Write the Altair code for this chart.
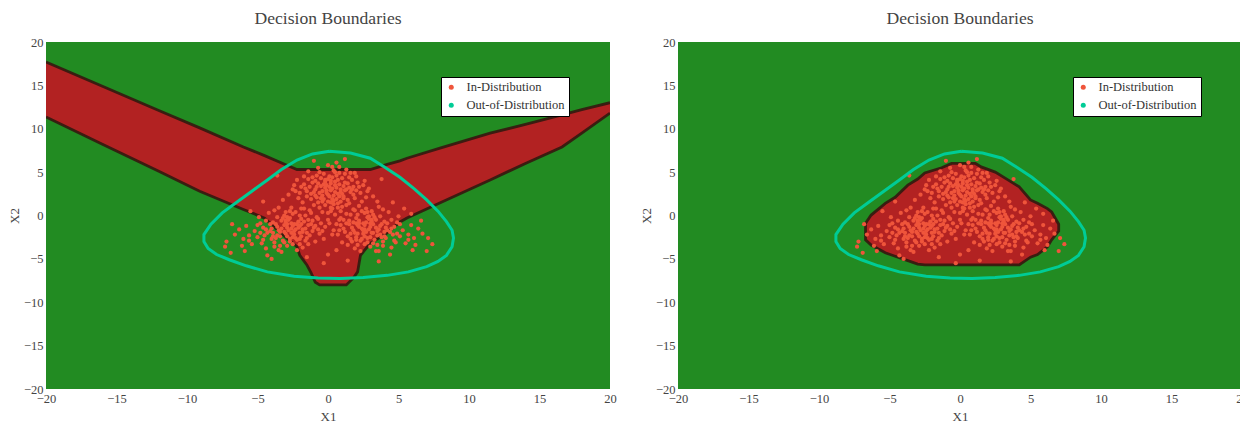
import altair as alt
import pandas as pd

# ---------------- data ----------------
TOP_CLUSTER = [
    (0.2,2.9),(-0.5,3.4),(1.1,2.2),(0.7,4.1),(-1.2,2.5),(0.0,1.6),(1.8,3.3),(-0.8,4.6),(0.4,5.2),(1.5,1.4),
    (-1.7,3.6),(2.3,2.6),(-0.2,3.9),(0.9,3.0),(-1.0,1.2),(0.3,0.8),(1.2,4.8),(-2.1,2.0),(2.6,4.0),(-0.4,2.3),
    (0.6,1.9),(1.9,2.0),(-1.4,4.2),(0.1,4.5),(2.9,3.1),(-2.5,3.0),(0.8,5.6),(-0.6,5.0),(1.4,3.7),(-0.1,2.6),
    (0.5,3.5),(-1.8,1.5),(2.2,1.1),(-0.9,3.0),(1.0,1.0),(0.0,5.8),(-2.8,2.4),(3.2,2.2),(0.3,3.1),(-0.3,1.9),
    (1.6,2.7),(-1.1,3.8),(0.7,2.5),(2.0,4.5),(-1.5,2.8),(0.2,4.0),(1.3,5.3),(-0.7,1.5),(-2.2,4.1),(2.5,3.5),
    (0.4,1.3),(-0.2,3.2),(1.7,4.1),(-1.3,0.6),(0.9,0.5),(-0.5,4.3),(1.1,3.4),(-3.2,1.8),(3.5,1.6),(0.6,6.1),
    (-0.8,2.1),(0.0,0.3),(1.9,0.6),(-1.9,0.8),(2.7,2.1),(-2.4,3.5),(0.1,2.2),(0.5,2.7),(-0.4,2.8),(0.8,3.6),
    (-0.1,3.5),(1.2,2.9),(-0.7,3.7),(0.3,1.9),(0.9,1.6),(-1.0,2.7),(1.5,3.2),(0.2,3.7),(-0.3,4.8),(1.0,4.3),
    (-1.6,3.1),(1.8,2.4),(-0.6,0.9),(0.6,4.6),(2.1,3.8),(-1.2,1.9),(0.4,2.3),(-0.2,1.2),(1.4,1.8),(-2.0,2.6),
    (2.4,1.6),(0.7,0.9),(-0.9,4.0),(1.6,4.9),(-1.4,5.1),(0.0,4.2),(1.1,2.0),(-0.5,2.0),(0.8,2.2),(-0.1,2.9),
    (0.5,3.9),(1.3,3.0),(-0.8,3.3),(0.2,1.5),(-1.7,4.5),(2.8,2.8),
    (0.0,2.4),(0.6,3.2),(-0.3,3.6),(0.9,2.7),(-0.6,2.6),(0.3,4.4),(1.2,3.8),(-0.9,2.3),(0.4,1.7),(1.7,3.0),
    (-1.3,3.3),(0.1,3.3),(0.7,1.4),(-0.2,4.1),(1.0,2.5),(-0.4,1.6),(1.5,4.4),(-1.1,4.4),(0.5,5.0),(2.0,2.9),
    (-1.9,3.3),(0.8,4.9),(-0.7,5.5),(1.3,1.2),(-1.5,2.2),(2.2,3.3),(0.2,0.9),(-2.3,2.8),(1.9,4.9),(0.3,5.6),
]
LEFT_CLUSTER = [
    (-2.5,-1.2),(-3.3,-0.6),(-1.8,-1.9),(-2.9,-2.4),(-4.0,-1.5),(-1.4,-0.5),(-3.6,-0.2),(-2.2,-2.8),(-4.5,-2.3),(-1.0,-1.4),
    (-3.0,0.4),(-2.0,0.0),(-4.8,-0.9),(-3.8,-3.1),(-1.5,-2.6),(-2.7,-0.3),(-5.2,-1.8),(-0.8,-0.2),(-3.4,-1.9),(-2.3,-1.6),
    (-4.2,0.3),(-1.7,0.8),(-2.9,-3.5),(-5.6,-2.9),(-0.6,-2.1),(-3.1,-1.1),(-4.4,-3.8),(-2.0,-3.3),(-6.1,-3.5),(-1.2,0.3),
    (-3.7,-2.6),(-2.6,0.9),(-4.9,-0.2),(-1.9,-1.0),(-3.3,-4.2),(-5.8,-1.2),(-2.4,-2.2),(-0.9,-3.0),(-4.1,-1.0),(-3.0,-0.8),
    (-6.6,-2.2),(-2.1,-0.7),(-3.9,-2.0),(-1.6,-1.5),(-2.8,-1.7),(-4.6,-1.4),(-1.3,-2.3),(-3.5,0.9),(-2.2,-4.0),(-5.4,-3.3),
    (-7.2,-3.0),(-4.3,-4.6),(-0.5,-0.9),(-3.2,-2.9),(-2.6,-0.9),(-1.1,-1.8),(-4.0,-2.7),(-6.3,-1.6),(-3.6,-1.3),(-2.3,0.4),
    (-1.8,-3.7),(-5.0,-2.5),(-2.9,-1.4),(-3.8,0.6),(-1.4,-1.1),(-4.7,-3.2),(-2.0,-2.0),(-3.4,-3.5),(-0.7,-1.6),(-5.9,-4.1),
    (-2.5,-2.5),(-3.1,0.0),(-4.4,-0.6),(-1.9,-0.4),(-2.7,-3.0),(-6.9,-4.3),(-3.0,-2.1),(-1.6,-2.9),(-4.1,-1.8),(-2.4,-1.0),
    (-2.8,-0.5),(-2.1,-1.4),(-3.5,-1.7),(-2.6,-2.0),(-1.7,-0.7),(-3.2,-0.3),(-2.3,-2.6),(-3.9,-0.8),(-1.5,-2.0),(-2.9,-1.0),
    (-3.6,-2.3),(-2.0,-1.2),(-2.5,0.2),(-4.3,-2.0),(-1.2,-1.0),(-3.3,-1.5),(-2.7,-2.7),(-1.9,-2.4),(-3.0,-0.6),(-2.4,-1.8),
    (-2.6,-1.5),(-3.1,-1.9),(-2.2,-1.0),(-3.7,-1.0),(-1.8,-1.6),(-2.9,-0.2),(-4.4,-1.6),(-2.0,-2.7),(-3.4,-2.4),(-1.1,-0.6),
    (-2.5,-3.3),(-3.9,-2.4),(-0.9,-1.2),(-4.8,-2.0),(-1.4,-3.3),(-3.1,-3.1),(-5.0,-1.1),(-0.4,-1.8),(-2.7,0.5),(-3.8,-3.6),
    (-5.6,-2.3),(-1.6,0.0),(-4.6,-2.8),(-6.0,-2.7),(-3.5,-4.0),
]
RIGHT_CLUSTER = [
    (2.6,-1.1),(3.4,-0.5),(1.9,-2.0),(3.0,-2.5),(4.1,-1.4),(1.5,-0.6),(3.7,-0.1),(2.3,-2.9),(4.6,-2.2),(1.1,-1.5),
    (3.1,0.5),(2.1,0.1),(4.9,-0.8),(3.9,-3.0),(1.6,-2.7),(2.8,-0.2),(5.3,-1.7),(0.9,-0.3),(3.5,-1.8),(2.4,-1.5),
    (4.3,0.4),(1.8,0.7),(3.0,-3.6),(5.7,-2.8),(0.7,-2.2),(3.2,-1.0),(4.5,-3.7),(2.1,-3.4),(6.2,-3.4),(1.3,0.2),
    (3.8,-2.5),(2.7,0.8),(5.0,-0.1),(2.0,-0.9),(3.4,-4.1),(5.9,-1.1),(2.5,-2.1),(1.0,-3.1),(4.2,-0.9),(3.1,-0.7),
    (6.7,-2.1),(2.2,-0.6),(4.0,-1.9),(1.7,-1.4),(2.9,-1.6),(4.7,-1.3),(1.4,-2.4),(3.6,1.0),(2.3,-4.1),(5.5,-3.2),
    (7.1,-2.6),(4.4,-4.5),(0.6,-1.0),(3.3,-2.8),(2.7,-0.8),(1.2,-1.9),(4.1,-2.6),(6.4,-1.5),(3.7,-1.2),(2.4,0.5),
    (1.9,-3.8),(5.1,-2.4),(3.0,-1.3),(3.9,0.7),(1.5,-1.0),(4.8,-3.1),(2.1,-2.1),(3.5,-3.4),(0.8,-1.7),(6.0,-4.0),
    (2.6,-2.4),(3.2,0.1),(4.5,-0.5),(2.0,-0.3),(2.8,-3.1),(7.0,-4.1),(3.1,-2.0),(1.7,-3.0),(4.2,-1.7),(2.5,-0.9),
    (2.9,-0.4),(2.2,-1.3),(3.6,-1.6),(2.7,-1.9),(1.8,-0.8),(3.3,-0.2),(2.4,-2.7),(4.0,-0.7),(1.6,-2.1),(3.0,-0.9),
    (3.7,-2.2),(2.1,-1.1),(2.6,0.3),(4.4,-1.9),(1.3,-0.9),(3.4,-1.4),(2.8,-2.6),(2.0,-2.5),(3.1,-0.5),(2.5,-1.7),
    (2.6,-1.6),(3.2,-2.0),(2.2,-0.9),(3.8,-1.0),(1.8,-1.7),(2.9,-0.1),(4.5,-1.5),(2.0,-2.8),(3.5,-2.3),(1.1,-0.5),
    (2.6,-3.3),(4.0,-2.4),(0.9,-1.1),(4.9,-2.1),(1.4,-3.4),(3.2,-3.2),(5.1,-1.0),(0.4,-1.7),(2.8,0.4),(3.9,-3.5),
    (5.7,-2.2),(1.6,0.1),(4.7,-2.9),(6.1,-2.6),(3.6,-4.1),
]
CENTER = [
    (0.0,-0.5),(-0.4,0.4),(0.5,0.1),(-0.2,-1.3),(0.3,-2.2),(0.1,-0.9),(-0.7,-0.4),(0.8,-0.5),(0.2,0.5),(-0.3,-2.7),
]
OUTLIERS = [
    (-6.8,-1.0),(-7.3,-3.6),(5.9,0.2),(6.6,-0.6),(7.4,-3.3),(-1.0,6.3),(1.2,6.5),(-3.6,4.6),(3.8,4.2),(0.0,-4.5),
    (-0.3,-5.5),(0.6,-4.0),(4.6,1.5),(-4.6,1.6),(-5.5,0.5),(5.4,0.8),(-1.5,-4.8),(1.4,-5.2),(-4.0,-5.0),(3.6,-5.3),
]

# out-of-distribution boundary (closed curve)
OOD_X = [0.1, 1.6, 3.0, 4.0, 5.1, 6.1, 7.0, 7.8, 8.4, 8.8, 8.9, 8.8, 8.4, 7.8, 7.0, 5.7, 4.2, 2.5, 0.85,
         -0.7, -2.4, -4.3, -5.8, -7.0, -7.9, -8.5, -8.8, -8.8, -8.3, -7.5, -6.5, -5.4, -4.3, -3.3, -2.2, -1.1, 0.1]
OOD_Y = [7.4, 7.2, 6.6, 5.6, 4.4, 3.1, 1.8, 0.5, -0.7, -1.7, -2.6, -3.6, -4.6, -5.3, -5.9, -6.5, -6.9, -7.15, -7.25,
         -7.2, -7.0, -6.5, -5.8, -5.1, -4.5, -3.8, -3.0, -2.2, -1.0, 0.3, 1.5, 2.8, 4.1, 5.3, 6.4, 7.1, 7.4]

# left model: red decision region (upper / lower edge at each x)
LEFT_X  = [-20, -16, -12, -9.1, -6, -4.5, -3, -2.2, -2.0, -1.5, -1.2, -0.9, -0.6, 0, 1.3, 1.8, 2.1, 2.3, 2.6, 3.0,
           4.2, 5.1, 5.6, 8, 11.5, 14, 16.6, 18, 20]
LEFT_UP = [17.7, 14.9, 12.1, 10.1, 7.9, 6.9, 5.85, 5.3, 5.3, 5.3, 5.3, 5.3, 5.3, 5.3, 5.3, 5.3, 5.3, 5.3, 5.3, 5.3,
           5.9, 6.3, 6.6, 7.8, 9.5, 10.5, 11.6, 12.2, 13.0]
LEFT_LO = [11.35, 8.2, 5.1, 2.8, 0.7, -0.3, -2.5, -3.6, -4.6, -5.7, -6.6, -7.7, -8.0, -8.0, -8.0, -7.2, -6.5, -4.6, -4.0, -3.2,
           -2.0, -0.75, -0.3, 1.5, 4.1, 6.0, 7.9, 9.5, 11.8]

# right model: red decision region
RIGHT_X  = [-6.7, -6.3, -5.3, -4.6, -3.7, -3.0, -2.5, -1.3, -0.6, 1.1, 1.5, 2.5, 3.4, 4.2, 5.0, 5.5, 6.2, 6.5, 7.0]
RIGHT_UP = [-0.9, 0.05, 1.4, 2.1, 3.5, 4.2, 4.9, 5.5, 6.0, 6.0, 5.6, 5.0, 4.1, 3.3, 1.8, 1.4, 0.8, 0.4, -1.0]
RIGHT_LO = [-2.8, -3.4, -4.3, -4.7, -5.2, -5.6, -5.7, -5.7, -5.7, -5.7, -5.7, -5.7, -5.7, -5.7, -4.8, -4.5, -3.6, -2.8, -1.8]

CATS = ["In-Distribution", "Out-of-Distribution"]
COLORS = ["#EF553B", "#00CC96"]
TICKS = [-20, -15, -10, -5, 0, 5, 10, 15, 20]

# ---------------- build ----------------
FONT = "Liberation Serif"
pts = TOP_CLUSTER + LEFT_CLUSTER + RIGHT_CLUSTER + CENTER + OUTLIERS
df_pts = pd.DataFrame({"x": [p[0] for p in pts], "y": [p[1] for p in pts], "series": CATS[0]})
df_ood = pd.DataFrame({"x": OOD_X, "y": OOD_Y, "i": list(range(len(OOD_X)))})

xs = alt.Scale(domain=[-20, 20], nice=False, zero=False)
ys = alt.Scale(domain=[-20, 20], nice=False, zero=False)
xax = alt.Axis(title="X1", values=TICKS, labelFont=FONT, titleFont=FONT, titlePadding=6)
yax = alt.Axis(title="X2", values=TICKS, labelFont=FONT, titleFont=FONT, titlePadding=2)
EDGE = "#34180f"


def panel(rx, rup, rlo, outline_closed):
    df_r = pd.DataFrame({"x": rx, "up": rup, "lo": rlo})
    if outline_closed:
        area = alt.Chart(df_r).mark_area(color="#B22222", stroke=EDGE, strokeWidth=2.8,
                                         strokeOpacity=0.9, clip=True).encode(
            x=alt.X("x:Q", scale=xs, axis=xax), y=alt.Y("up:Q", scale=ys, axis=yax), y2="lo:Q")
        layers = [area]
    else:
        area = alt.Chart(df_r).mark_area(color="#B22222", clip=True).encode(
            x=alt.X("x:Q", scale=xs, axis=xax), y=alt.Y("up:Q", scale=ys, axis=yax), y2="lo:Q")
        e1 = alt.Chart(df_r).mark_line(color=EDGE, strokeWidth=2.8, opacity=0.9, clip=True).encode(
            x="x:Q", y="up:Q")
        e2 = alt.Chart(df_r).mark_line(color=EDGE, strokeWidth=2.8, opacity=0.9, clip=True).encode(
            x="x:Q", y="lo:Q")
        layers = [area, e1, e2]
    points = alt.Chart(df_pts).mark_circle(size=18, opacity=1).encode(
        x="x:Q", y="y:Q",
        color=alt.Color("series:N", scale=alt.Scale(domain=CATS, range=COLORS),
                        legend=alt.Legend(title=None)))
    ood = alt.Chart(df_ood).mark_line(color="#00CC96", strokeWidth=3).encode(
        x="x:Q", y="y:Q", order="i:Q")
    return alt.layer(*layers, points, ood).properties(
        width=564, height=347,
        title=alt.TitleParams("Decision Boundaries", frame="group"))


left = panel(LEFT_X, LEFT_UP, LEFT_LO, False)
right = panel(RIGHT_X, RIGHT_UP, RIGHT_LO, True)

chart = alt.hconcat(left, right, spacing=23).resolve_scale(color="independent").properties(
    padding={"left": 0, "top": 2, "right": -9, "bottom": 0}
).configure(font=FONT).configure_view(fill="#228B22", stroke=None).configure_axis(
    domain=False, ticks=False, grid=False, labelFont=FONT, labelFontSize=12.5, labelColor="#444",
    labelPadding=3, titleFont=FONT, titleFontSize=13, titleFontWeight="normal", titleColor="#444",
    labelFlush=False
).configure_title(
    font=FONT, fontSize=17.6, fontWeight="normal", color="#444", offset=8
).configure_legend(
    orient="none", legendX=395, legendY=35, fillColor="white", strokeColor="black",
    padding=4, labelFont=FONT, labelFontSize=12.5, labelColor="#333", symbolSize=25,
    symbolType="circle", labelOffset=9, rowPadding=5
)

chart.save("out.html", embed_options={"renderer": "svg", "actions": False})
